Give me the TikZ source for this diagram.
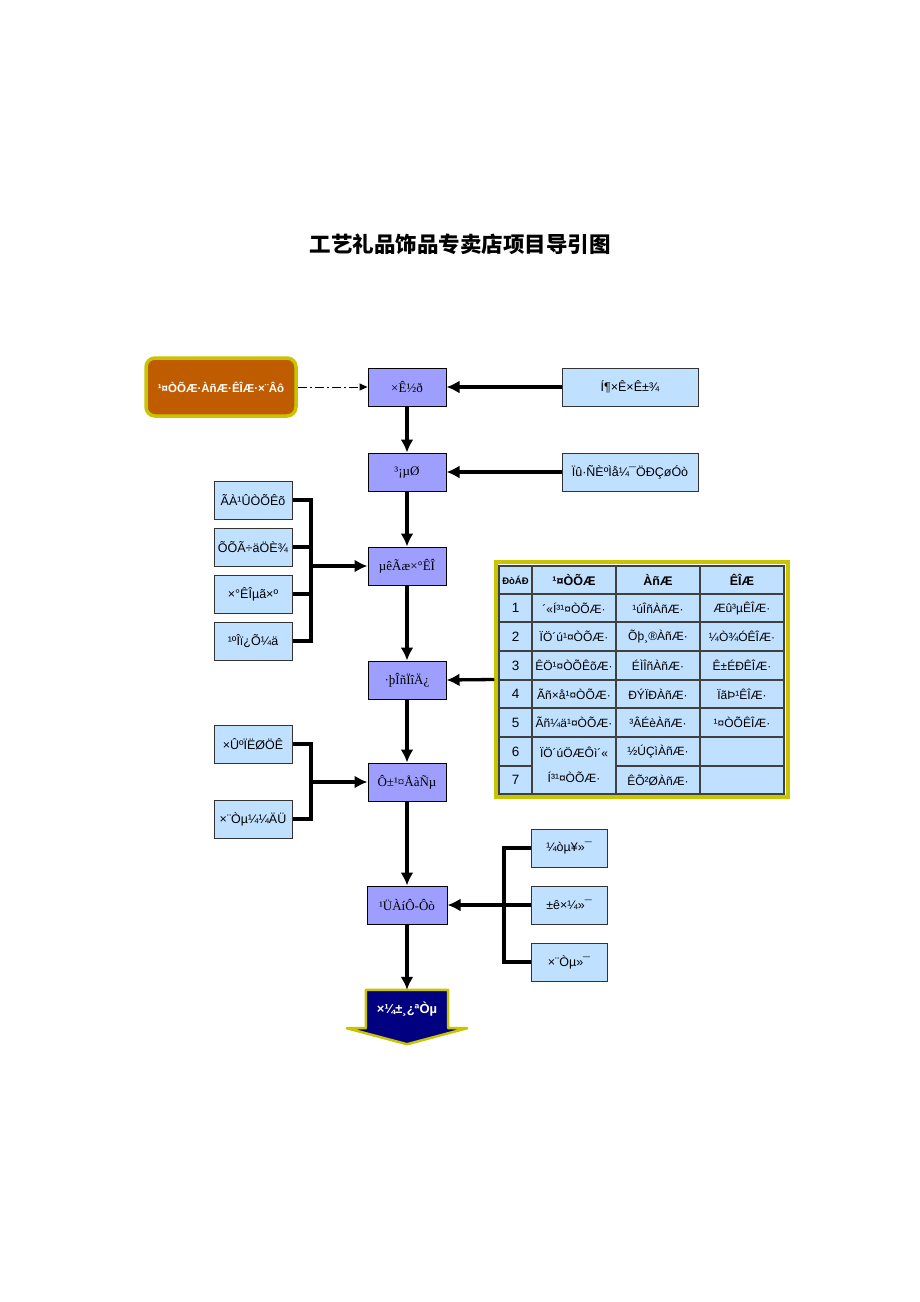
\documentclass[tikz,border=0pt]{standalone}
\usepackage{fontspec}
\setmainfont{Liberation Sans}
\newfontfamily\timesfont{Liberation Serif}
\newfontfamily\cjkfont{Noto Sans CJK SC}
\usetikzlibrary{positioning, arrows.meta, backgrounds, calc}

\definecolor{goldline}{RGB}{200,196,0}
\definecolor{brandfill}{RGB}{192,92,0}
\definecolor{stagefill}{RGB}{158,158,255}
\definecolor{factorfill}{RGB}{192,224,255}
\definecolor{openfill}{RGB}{0,0,128}

\begin{document}
\begin{tikzpicture}[
  x=1pt, y=-1pt,
  stagebox/.style={rectangle, draw=black, line width=1pt, fill=stagefill, minimum width=78pt, minimum height=38pt, inner sep=2pt, font=\timesfont\fontsize{13}{15}\selectfont},
  factorbox/.style={rectangle, draw=black!80, line width=1pt, fill=factorfill, minimum width=78pt, minimum height=38pt, inner sep=2pt, font=\fontsize{12.5}{15}\selectfont},
  brandbox/.style={rectangle, rounded corners=9pt, draw=goldline, line width=3.5pt, fill=brandfill, text=white, minimum width=150pt, minimum height=58pt, font=\bfseries\fontsize{11.5}{14}\selectfont},
  cell/.style={inner sep=1pt, font=\fontsize{12}{14}\selectfont},
  headcell/.style={inner sep=1pt, font=\bfseries\fontsize{12.5}{14}\selectfont},
  arrow/.style={-{Latex[length=13pt,width=13pt]}, line width=3.3pt},
  feed/.style={line width=3.3pt},
  hint/.style={-{Triangle[length=8pt,width=7pt]}, line width=1pt, dash pattern=on 9pt off 3pt on 2pt off 3pt}
]
\useasboundingbox (0,0) rectangle (920,1302);

% title
\node[font=\cjkfont\bfseries\fontsize{21.5}{24}\selectfont] (title) at (460,244) {工艺礼品饰品专卖店项目导引图};

% main stages
\node[brandbox] (brand) at (221,387) {¹¤ÒÕÆ·ÀñÆ·ÊÎÆ·×¨Âô};
\node[stagebox] (fund) at (407,387) {×Ê½ð};
\node[stagebox] (site) at (407,472) {³¡µØ};
\node[stagebox] (decor) at (407,566) {µêÃæ×°ÊÎ};
\node[stagebox] (service) at (407,680) {·þÎñÏîÄ¿};
\node[stagebox] (staff) at (407,782) {Ô±¹¤ÅàÑµ};
\node[stagebox, minimum width=80pt] (manage) at (407,905) {¹ÜÀíÔ-Ôò};

% right inputs
\node[factorbox, minimum width=136pt] (capital) at (630,387) {Í¶×Ê×Ê±¾};
\node[factorbox, minimum width=136pt] (crowd) at (630,472) {Ïû·ÑÈºÌå¼¯ÖÐÇøÓò};

% decoration factors
\node[factorbox] (art) at (253,500) {ÃÀ¹ÛÒÕÊõ};
\node[factorbox] (light) at (253,547) {ÕÕÃ÷äÖÈ¾};
\node[factorbox] (ornament) at (253,594) {×°ÊÎµã×º};
\node[factorbox] (space) at (253,641) {¹ºÎï¿Õ¼ä};

% training factors
\node[factorbox] (quality) at (253,744) {×ÛºÏËØÖÊ};
\node[factorbox] (skill) at (253,819) {×¨Òµ¼¼ÄÜ};

% management factors
\node[factorbox, minimum width=76pt] (simple) at (569,848) {¼òµ¥»¯};
\node[factorbox, minimum width=76pt] (standard) at (569,905) {±ê×¼»¯};
\node[factorbox, minimum width=76pt] (profession) at (569,962) {×¨Òµ»¯};

% opening
\node[minimum width=82pt, minimum height=38pt, inner sep=0pt, text=white, font=\bfseries\fontsize{13}{15}\selectfont] (open) at (407,1009) {×¼±¸¿ªÒµ};
\begin{pgfonlayer}{background}
\draw[goldline, line width=2.5pt, fill=openfill, line join=round]
  (open.north west) -- (open.north east) -- (open.south east)
  -- ([xshift=19pt]open.south east) -- ([yshift=-16pt]open.south)
  -- ([xshift=-19pt]open.south west) -- (open.south west) -- cycle;
\end{pgfonlayer}

% product table
\node[draw=goldline, line width=3.5pt, fill=white, minimum width=292pt, minimum height=235pt, inner sep=0pt] (menu) at (642,679.5) {};
\draw[black!75, line width=1.5pt, fill=factorfill] (499,566) rectangle (784,794);
\draw[black!75, line width=1.5pt]
  (499,594) -- (784,594) (499,622) -- (784,622) (499,651) -- (784,651)
  (499,680) -- (784,680) (499,708) -- (784,708) (499,737) -- (784,737)
  (499,766) -- (532,766) (616,766) -- (784,766)
  (532,566) -- (532,794) (616,566) -- (616,794) (700,566) -- (700,794);
\node[headcell, font=\bfseries\fontsize{9.5}{11}\selectfont] (headno) at (515.5,580) {ÐòÁÐ};
\node[headcell] (headcraft) at (574,580) {¹¤ÒÕÆ};
\node[headcell] (headgift) at (658,580) {ÀñÆ};
\node[headcell] (headjewel) at (742,580) {ÊÎÆ};
\foreach \row/\ypos/\craft/\gift/\jewel in {
  1/608/{´«Í³¹¤ÒÕÆ·}/{¹úÎñÀñÆ·}/{Æû³µÊÎÆ·},
  2/636.5/{ÏÖ´ú¹¤ÒÕÆ·}/{Õþ¸®ÀñÆ·}/{¼Ò¾ÓÊÎÆ·},
  3/665.5/{ÊÖ¹¤ÒÕÊõÆ·}/{ÉÌÎñÀñÆ·}/{Ê±ÉÐÊÎÆ·},
  4/694/{Ãñ×å¹¤ÒÕÆ·}/{ÐÝÏÐÀñÆ·}/{ÏãÞ¹ÊÎÆ·},
  5/722.5/{Ãñ¼ä¹¤ÒÕÆ·}/{³ÂÉèÀñÆ·}/{¹¤ÒÕÊÎÆ·}}{
  \node[cell, font=\fontsize{13.5}{15}\selectfont] (no\row) at (515.5,\ypos) {\row};
  \node[cell] (craft\row) at (574,\ypos) {\craft};
  \node[cell] (gift\row) at (658,\ypos) {\gift};
  \node[cell] (jewel\row) at (742,\ypos) {\jewel};
}
\node[cell, font=\fontsize{13.5}{15}\selectfont] (no6) at (515.5,751.5) {6};
\node[cell, font=\fontsize{13.5}{15}\selectfont] (no7) at (515.5,780) {7};
\node[cell, align=center, font=\fontsize{12}{25}\selectfont] (craft6) at (574,765) {ÏÖ´úÖÆÔì´«\\Í³¹¤ÒÕÆ·};
\node[cell] (gift6) at (658,751.5) {½ÚÇìÀñÆ·};
\node[cell] (gift7) at (658,780) {ÊÕ²ØÀñÆ·};

% bus points
\coordinate (decorbus) at (311,566);
\coordinate (staffbus) at (311,782);
\coordinate (managebus) at (504,905);

% connectors
\draw[hint] (brand.east) -- (fund.west);
\draw[arrow] (capital.west) -- (fund.east);
\draw[arrow] (crowd.west) -- (site.east);
\draw[arrow] (fund) -- (site);
\draw[arrow] (site) -- (decor);
\draw[arrow] (decor) -- (service);
\draw[arrow] (service) -- (staff);
\draw[arrow] (staff) -- (manage);
\draw[arrow] (manage) -- (open);
\draw[arrow] (menu.west) -- (service.east);

\draw[feed] (art.east) -| (decorbus);
\draw[feed] (light.east) -| (decorbus);
\draw[feed] (ornament.east) -| (decorbus);
\draw[feed] (space.east) -| (decorbus);
\draw[arrow] (decorbus) -- (decor.west);

\draw[feed] (quality.east) -| (staffbus);
\draw[feed] (skill.east) -| (staffbus);
\draw[arrow] (staffbus) -- (staff.west);

\draw[feed] (simple.west) -| (managebus);
\draw[feed] (profession.west) -| (managebus);
\draw[arrow] (standard.west) -- (manage.east);

\end{tikzpicture}
\end{document}
